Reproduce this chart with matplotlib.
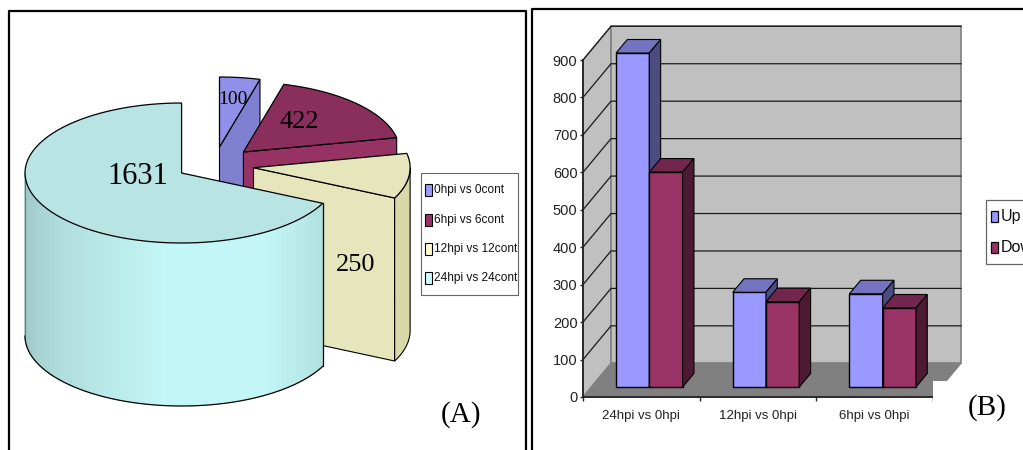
import numpy as np
import matplotlib
matplotlib.use('Agg')
import matplotlib.pyplot as plt
from matplotlib.patches import Rectangle

plt.rcParams['font.family'] = ['Liberation Sans', 'DejaVu Sans']

# pie data
pie_labels = ['0hpi vs 0cont', '6hpi vs 6cont', '12hpi vs 12cont', '24hpi vs 24cont']
pie_values = [100, 422, 250, 1631]

# bar data
bar_categories = ['24hpi vs 0hpi', '12hpi vs 0hpi', '6hpi vs 0hpi']
up_values = [892, 253, 249]
down_values = [574, 228, 211]
bar_series = ['Up', 'Down']
y_ticks = [0, 100, 200, 300, 400, 500, 600, 700, 800, 900]

W, H = 1023, 450
fig = plt.figure(figsize=(W / 100, H / 100), dpi=100)

# full figure axes in pixel coords for frames, pie and legends
ax = fig.add_axes([0, 0, 1, 1])
ax.set_xlim(0, W)
ax.set_ylim(H, 0)
ax.axis('off')

# panel frames
ax.plot([9, 9, 526, 526], [H, 11, 11, H], color='black', lw=1.6)
ax.plot([532, 532, W], [H, 9, 9], color='black', lw=1.6)

# --- pie ---
RX, RY, DEPTH = 156.6, 70, 163
pie_centers = [(219.5, 147), (243.4, 152), (253.5, 167.7), (181.6, 173)]
top_cols = ['#9090E8', '#8A2E5C', '#E6E6BC', '#B8E4E4']
cut_cols = ['#8080D0', '#963264', '#E6E6BC', '#B8E4E4']
wall_cols = ['#8080D0', '#963264', '#D8D8A8', '#B8E4E4']


def arc(c, t1, t2, n=80):
    t = np.radians(np.linspace(t1, t2, n))
    return c[0] + RX * np.cos(t), c[1] - RY * np.sin(t)


total = sum(pie_values)
angles = [90]
for v in pie_values:
    angles.append(angles[-1] - 360 * v / total)

for i in range(4):
    c = pie_centers[i]
    t1, t2 = angles[i], angles[i + 1]
    if i == 3:
        # the big slice, shaded cylinder wall from its left silhouette to the cut
        n = 90
        ts = np.linspace(-180, t1, n)
        dark = np.array([0x98, 0xBE, 0xBE]) / 255
        bright = np.array([0xC3, 0xF6, 0xF6]) / 255
        right = np.array([0xB0, 0xE0, 0xE0]) / 255
        xb, yb = arc(c, ts[0], ts[-1], 120)
        # solid base first so nothing shows through the strip seams
        ax.fill(np.r_[xb, xb[::-1]], np.r_[yb, yb[::-1] + DEPTH], color='#B8E8E8', lw=0, zorder=1.9 + i)
        for k in range(n - 1):
            f = k / (n - 2)
            if f < 0.55:
                col = dark + (bright - dark) * (f / 0.55) ** 0.8
            elif f < 0.8:
                col = bright
            else:
                col = bright + (right - bright) * (f - 0.8) / 0.2
            xs, ys = arc(c, ts[k], ts[k + 1], 3)
            ax.fill(np.r_[xs, xs[::-1]], np.r_[ys, ys[::-1] + DEPTH], color=col, lw=0.5, zorder=2 + i)
        ax.plot(xb, yb + DEPTH, color='black', lw=0.9, zorder=2.1 + i)
        ax.plot([xb[0], xb[0]], [yb[0], yb[0] + DEPTH], color='#555555', lw=0.5, zorder=2.1 + i)
        ax.plot([xb[-1], xb[-1]], [yb[-1], yb[-1] + DEPTH], color='black', lw=0.9, zorder=2.1 + i)
    else:
        # flat cut face at the clockwise end of the slice
        xe, ye = arc(c, t2, t2, 1)
        ax.fill([c[0], xe[0], xe[0], c[0]], [c[1], ye[0], ye[0] + DEPTH, c[1] + DEPTH],
                facecolor=cut_cols[i], edgecolor='black', lw=0.8, zorder=2 + i)
        if t2 < 0:
            xs, ys = arc(c, t2, 0, 30)
            ax.fill(np.r_[xs, xs[::-1]], np.r_[ys, ys[::-1] + DEPTH],
                    facecolor=wall_cols[i], edgecolor='black', lw=0.8, zorder=2 + i)
    xs, ys = arc(c, t1, t2)
    ax.fill(np.r_[c[0], xs], np.r_[c[1], ys], facecolor=top_cols[i], edgecolor='black', lw=0.9, zorder=2.2 + i)

pie_text_pos = [(233, 100), (299, 122), (355.7, 265), (137.6, 176)]
pie_text_size = [14, 19, 19, 22]
for val, pos, fs in zip(pie_values, pie_text_pos, pie_text_size):
    ax.text(pos[0], pos[1], str(val), family='Liberation Serif', fontsize=fs,
            ha='center', va='center', color='black', zorder=10)

# pie legend
ax.add_patch(Rectangle((421, 173), 97, 122, facecolor='white', edgecolor='#666666', lw=0.8, zorder=8))
swatch_cols = ['#9999FF', '#993366', '#FFFFCC', '#CCFFFF']
for name, col, yc in zip(pie_labels, swatch_cols, [190, 220, 249, 278]):
    ax.add_patch(Rectangle((424.5, yc - 6), 7.5, 12, facecolor=col, edgecolor='black', lw=0.8, zorder=9))
    ax.text(434.5, yc, name, fontsize=8.6, ha='left', va='center', color='#111111', zorder=9)

ax.text(461.5, 415, '(A)', family='Liberation Serif', fontsize=21, ha='center', va='center', zorder=10)

# --- 3d bars ---
axb = fig.add_axes([583 / W, (H - 397) / H, 350 / W, 337 / H])
axb.patch.set_alpha(0)
PX_X = 350 / 3
PX_Y = 337 / 900
wall_dx, wall_dy = 28 / PX_X, 33.7 / PX_Y
bar_w = 33.3 / PX_X
bar_dx, bar_dy = 11.3 / PX_X, 13.5 / PX_Y
shift_x, base = 8 / PX_X, 26.7
ymax = y_ticks[-1]

# walls and floor
axb.fill([0, wall_dx, wall_dx, 0], [0, wall_dy, ymax + wall_dy, ymax],
         facecolor='#C0C0C0', edgecolor='#808080', lw=1, clip_on=False, zorder=1)
axb.fill([wall_dx, 3 + wall_dx, 3 + wall_dx, wall_dx], [wall_dy, wall_dy, ymax + wall_dy, ymax + wall_dy],
         facecolor='#C0C0C0', edgecolor='#808080', lw=1.2, clip_on=False, zorder=1)
axb.fill([0, wall_dx, 3 + wall_dx, 3], [0, wall_dy, wall_dy, 0],
         facecolor='#808080', edgecolor='#808080', lw=0.8, clip_on=False, zorder=1.1)
for t in y_ticks[1:]:
    axb.plot([0, wall_dx, 3 + wall_dx], [t, t + wall_dy, t + wall_dy],
             color='#1A1A1A', lw=0.9, clip_on=False, zorder=1.2)

series_vals = [up_values, down_values]
front_cols = ['#9999FF', '#993366']
top3d_cols = ['#7373C0', '#73264D']
side_cols = ['#4C4C80', '#4D1A33']
for g in range(len(bar_categories)):
    for s in range(2):
        x0 = g + 0.5 + shift_x + (s - 1) * bar_w
        v = series_vals[s][g]
        yt = base + v
        axb.bar(x0, v, bar_w, bottom=base, align='edge', color=front_cols[s], edgecolor='black',
                lw=1, clip_on=False, zorder=3 + s)
        axb.fill([x0, x0 + bar_dx, x0 + bar_w + bar_dx, x0 + bar_w], [yt, yt + bar_dy, yt + bar_dy, yt],
                 facecolor=top3d_cols[s], edgecolor='black', lw=0.8, clip_on=False, zorder=3 + s)
        axb.fill([x0 + bar_w, x0 + bar_w + bar_dx, x0 + bar_w + bar_dx, x0 + bar_w],
                 [base, base + bar_dy, yt + bar_dy, yt],
                 facecolor=side_cols[s], edgecolor='black', lw=0.8, clip_on=False, zorder=3 + s)

axb.set_xlim(0, 3)
axb.set_ylim(0, ymax)
axb.set_yticks(y_ticks)
axb.set_xticks([0, 1, 2, 3])
axb.set_xticklabels([])
axb.set_xticks([0.5, 1.5, 2.5], labels=bar_categories, minor=True)
axb.tick_params(axis='x', which='major', length=3, width=1, color='#222222')
axb.tick_params(axis='x', which='minor', length=0, pad=9, labelsize=9.5, labelcolor='#222222')
axb.tick_params(axis='y', length=2, width=1, pad=2, labelsize=10.5, color='#222222', labelcolor='#222222')
for side in ['top', 'right']:
    axb.spines[side].set_visible(False)
for side in ['left', 'bottom']:
    axb.spines[side].set_linewidth(1.3)
    axb.spines[side].set_color('#222222')

# white patch under the (B) label, cuts the floor corner
axb.add_patch(Rectangle((933, 381), 60, 40, transform=ax.transData, facecolor='white',
                        edgecolor='none', clip_on=False, zorder=5))
axb.text(987, 408, '(B)', transform=ax.transData, family='Liberation Serif', fontsize=21,
         ha='center', va='center', clip_on=False, zorder=6)

# bar legend, runs off the right edge like the source
axb.add_patch(Rectangle((986, 199.5), 60, 64, transform=ax.transData, facecolor='white',
                        edgecolor='#666666', lw=0.9, clip_on=False, zorder=5))
for name, col, yc in zip(bar_series, front_cols, [216, 247]):
    axb.add_patch(Rectangle((990.5, yc - 5), 7, 11, transform=ax.transData, facecolor=col,
                            edgecolor='black', lw=0.9, clip_on=False, zorder=6))
    axb.text(1000.5, yc, name, transform=ax.transData, fontsize=11.5, ha='left', va='center',
             color='#111111', clip_on=False, zorder=6)

fig.savefig('out.png', dpi=100)
